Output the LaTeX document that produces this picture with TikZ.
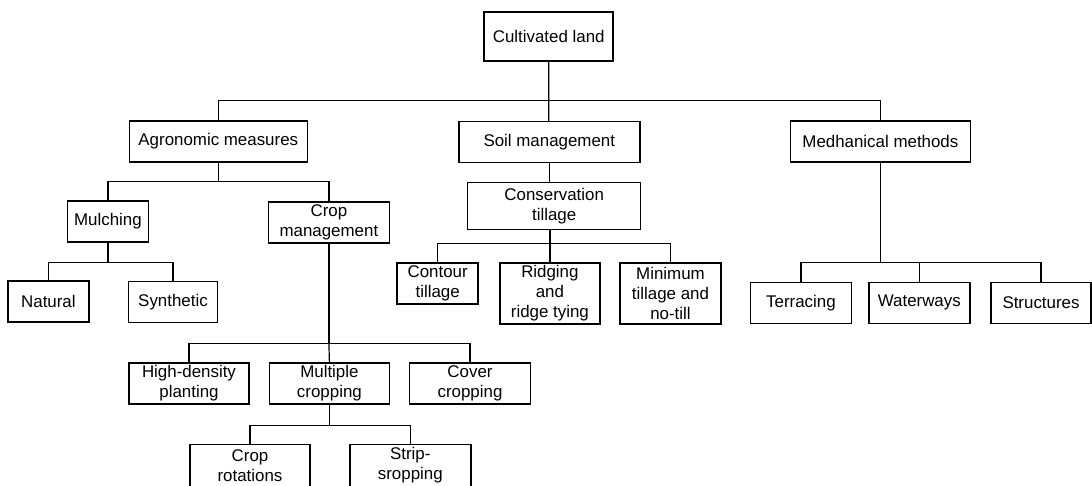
\documentclass[tikz,border=0pt]{standalone}
\usepackage{fontspec}
\setmainfont{Liberation Sans}

\begin{document}
\begin{tikzpicture}[
  x=1pt, y=-1pt,
  every node/.style={inner sep=2pt},
  box/.style={draw, line width=1.5pt, align=center, font=\fontsize{16.9}{20}\selectfont},
  one/.style={box, minimum height=41pt},
  link/.style={draw, line width=1.2pt}]

  \useasboundingbox (0,0) rectangle (1092,485);
  \clip (0,0) rectangle (1092,485);

  % vertices, top levels
  \node[box, minimum width=129pt, minimum height=49pt] (land) at (548.7,36.7) {Cultivated land};
  \node[one, minimum width=178pt] (agro) at (218.3,141.5) {Agronomic measures};
  \node[one, minimum width=181pt] (soil) at (549.3,142)   {Soil management};
  \node[one, minimum width=180pt] (mech) at (880.4,141.5) {Medhanical methods};

  % agronomic side
  \node[one, minimum width=81pt]  (mulch) at (107.9,221.5) {Mulching};
  \node[one, minimum width=121pt] (cropm) at (328.9,222.5) {Crop\\management};
  \node[one, minimum width=81pt]  (natural) at (48.4,301.7) {Natural};
  \node[one, minimum width=89pt]  (synth)   at (173,302)    {Synthetic};
  \node[one, minimum width=120pt] (dense) at (189,383.5)   {High-density\\planting};
  \node[one, minimum width=120pt] (multi) at (329.4,383.5) {Multiple\\cropping};
  \node[one, minimum width=121pt] (cover) at (470,383.5)   {Cover\\cropping};
  \node[box, minimum width=120pt, minimum height=42pt] (rotate) at (250,465.3)   {Crop\\rotations};
  \node[box, minimum width=121pt, minimum height=42pt] (strip)  at (410.3,465.3) {Strip-\\sropping};

  % soil side
  \node[box, minimum width=173pt, minimum height=47pt] (cons) at (554.2,205.8) {Conservation\\tillage};
  \node[one, minimum width=81pt]  (contour) at (437.7,283.3) {Contour\\tillage};
  \node[box, minimum width=100pt, minimum height=61pt] (ridge)  at (549.9,293.5) {Ridging\\and\\ridge tying};
  \node[box, minimum width=101pt, minimum height=61pt] (mintill) at (670.5,293.5) {Minimum\\tillage and\\no-till};

  % mechanical side
  \node[one, minimum width=101pt] (terrace) at (800.9,302.8) {Terracing};
  \node[one, minimum width=101pt] (water)   at (919.3,302.8) {Waterways};
  \node[one, minimum width=100pt] (struct)  at (1041,302.8)  {Structures};

  % bus points
  \coordinate (topbus)   at (548.8,100.7);
  \coordinate (agrobus)  at (218.3,181.7);
  \coordinate (mulchbus) at (107.9,262.3);
  \coordinate (consbus)  at (549.9,243.3);
  \coordinate (cropbus)  at (328.9,343.3);
  \coordinate (multibus) at (329.4,425.3);
  \coordinate (mechbus)  at (880.4,262.3);

  % connectors
  \draw[link] (land.south) -- (topbus) -- (topbus |- soil.north);
  \draw[link] (agro.north) |- (topbus) -| (mech.north);

  \draw[link] (agro.south) -- (agrobus);
  \draw[link] (mulch.north) |- (agrobus) -| (cropm.north);
  \draw[link] (mulch.south) -- (mulchbus);
  \draw[link] (natural.north) |- (mulchbus) -| (synth.north);

  \draw[link] (cropm.south) -- (cropbus);
  \draw[link] (dense.north) |- (cropbus) -| (cover.north);
  \draw[link] (cropbus) -- (multi.north);
  \draw[link] (multi.south) -- (multibus);
  \draw[link] (rotate.north) |- (multibus) -| (strip.north);

  \draw[link] (soil.south) -- (soil.south |- cons.north);
  \draw[link] (cons.south -| consbus) -- (ridge.north);
  \draw[link] (contour.north) |- (consbus) -| (mintill.north);

  \draw[link] (mech.south) -- (mechbus);
  \draw[link] (terrace.north) |- (mechbus) -| (struct.north);
  \draw[link] (mechbus -| water.north) -- (water.north);
\end{tikzpicture}
\end{document}
